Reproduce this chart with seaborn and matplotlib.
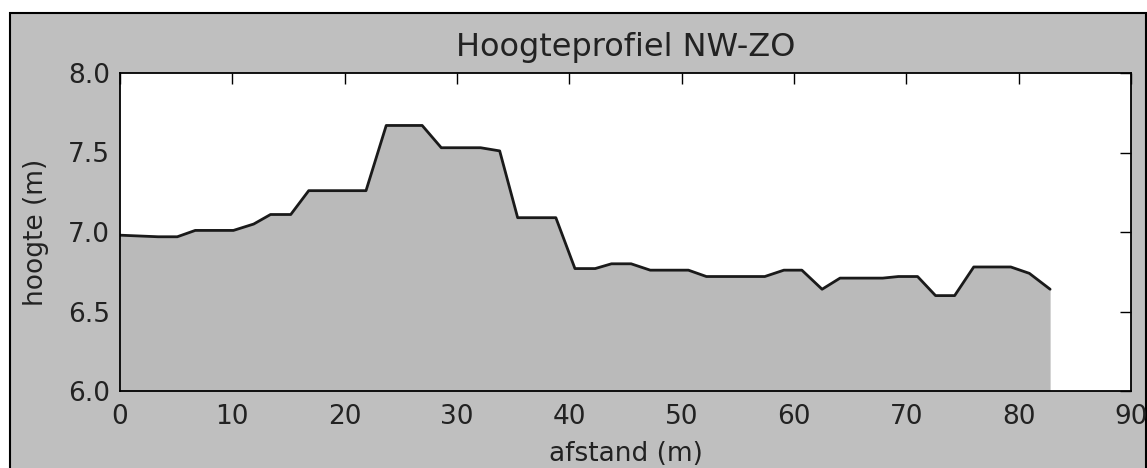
import matplotlib
matplotlib.use("Agg")
import matplotlib.pyplot as plt
import seaborn as sns
import pandas as pd
from matplotlib.patches import Rectangle

afstand = [0, 3.4, 5.1, 6.7, 10.1, 11.9, 13.4, 15.2, 16.8, 21.9, 23.7, 26.9, 28.6,
           32.1, 33.8, 35.4, 38.8, 40.5, 42.3, 43.75, 45.5, 47.2, 50.6, 52.2, 57.4,
           59.1, 60.7, 62.5, 64.1, 67.9, 69.3, 71.0, 72.6, 74.3, 76.0, 79.3, 80.95, 82.8]
hoogte = [6.98, 6.97, 6.97, 7.01, 7.01, 7.05, 7.11, 7.11, 7.26, 7.26, 7.67, 7.67, 7.53,
          7.53, 7.51, 7.09, 7.09, 6.77, 6.77, 6.80, 6.80, 6.76, 6.76, 6.72, 6.72,
          6.76, 6.76, 6.64, 6.71, 6.71, 6.72, 6.72, 6.60, 6.60, 6.78, 6.78, 6.74, 6.64]
xticks = [0, 10, 20, 30, 40, 50, 60, 70, 80, 90]
yticks = [6.0, 6.5, 7.0, 7.5, 8.0]

df = pd.DataFrame({"afstand": afstand, "hoogte": hoogte})

sns.set_style("white")
plt.rcParams["font.family"] = ["DejaVu Sans"]

fig = plt.figure(figsize=(11.47, 4.68), dpi=100, facecolor="white")
# grijze achtergrond met zwarte rand (onderkant valt buiten beeld)
rand = Rectangle((10 / 1147, -0.1), 1135.5 / 1147, 1.1 - 13 / 468,
                 transform=fig.transFigure, facecolor="#bfbfbf",
                 edgecolor="black", linewidth=1.5, zorder=-10)
fig.add_artist(rand)

ax = fig.add_axes([120 / 1147, 1 - 391 / 468, 1011 / 1147, 318 / 468])
ax.set_zorder(1)
ax.set_facecolor("white")

ax.fill_between(df.afstand, df.hoogte, 6.0, color="#bababa", linewidth=0)
sns.lineplot(data=df, x="afstand", y="hoogte", ax=ax, color="#1a1a1a",
             linewidth=2.0, estimator=None, sort=False)

ax.set_xlim(0, 90)
ax.set_ylim(6.0, 8.0)
ax.set_xticks(xticks)
ax.set_yticks(yticks)
ax.set_xticklabels([str(t) for t in xticks])
ax.set_yticklabels([f"{t:.1f}" for t in yticks])
ax.tick_params(direction="in", length=8, width=1, top=True, right=True,
               labelsize=19, colors="black", labelcolor="#222222")
ax.tick_params(axis="x", pad=9)
ax.tick_params(axis="y", pad=7)
for s in ax.spines.values():
    s.set_visible(True)
    s.set_color("black")
    s.set_linewidth(1.3)

ax.set_title("Hoogteprofiel NW-ZO", fontsize=23, color="#222222", pad=12)
ax.set_xlabel("afstand (m)", fontsize=19, color="#222222", labelpad=8)
ax.set_ylabel("hoogte (m)", fontsize=19, color="#222222", labelpad=14)

fig.savefig("out.png", dpi=100, facecolor=fig.get_facecolor())
